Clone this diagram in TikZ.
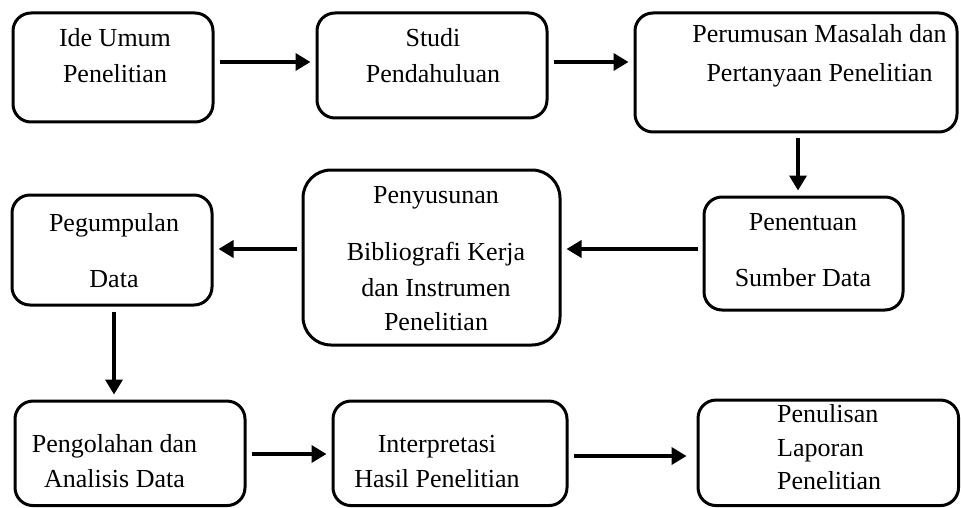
\documentclass[tikz,border=0pt]{standalone}
\usepackage{fontspec}
\setmainfont{Liberation Serif}
\usetikzlibrary{arrows.meta, positioning}
\tikzset{
    process/.style={rectangle, draw, line width=3pt, rounded corners=18pt, inner sep=0pt},
    boxtext/.style={align=center, anchor=north, inner sep=0pt, font=\fontsize{26}{36}\selectfont},
    arrow/.style={line width=3.5pt, -{Triangle[length=15pt, width=17pt]}, shorten <=5pt, shorten >=5pt}
}

\begin{document}
\begin{tikzpicture}[x=1pt, y=-1pt]
        \useasboundingbox (0,0) rectangle (961,508);
        % baris pertama
        \node[process, minimum width=200pt, minimum height=109pt] (ide) at (113,67.5) {};
        \node[process, minimum width=230pt, minimum height=105pt] (studi) at (432,65.5) {};
        \node[process, minimum width=322pt, minimum height=119pt] (rumusan) at (796,72.5) {};
        \node[boxtext] (ide-txt) at (115,28.5) {Ide Umum\\Penelitian};
        \node[boxtext] (studi-txt) at (433,28.5) {Studi\\Pendahuluan};
        \node[boxtext] (rumusan-txt) at (819.5,24.5) {Perumusan Masalah dan\\[3pt]Pertanyaan Penelitian};
        % baris kedua
        \node[process, minimum width=200pt, minimum height=110pt] (kumpul) at (112,250) {};
        \node[process, minimum width=257pt, minimum height=175pt, rounded corners=28pt] (susun) at (431.5,257.5) {};
        \node[process, minimum width=199pt, minimum height=113pt] (sumber) at (803.5,253.5) {};
        \node[boxtext] (kumpul-txt) at (114,213.5) {Pegumpulan\\[20pt]Data};
        \node[boxtext] (susun-txt) at (436,186.5) {Penyusunan\\[21pt]Bibliografi Kerja\\dan Instrumen\\[-2pt]Penelitian};
        \node[boxtext] (sumber-txt) at (803,213.5) {Penentuan\\[20pt]Sumber Data};
        % baris ketiga
        \node[process, minimum width=230pt, minimum height=104.5pt] (olah) at (130,453.3) {};
        \node[process, minimum width=234pt, minimum height=104.5pt] (tafsir) at (450,453.3) {};
        \node[process, minimum width=260.5pt, minimum height=105.5pt] (tulis) at (828.3,452.8) {};
        \node[boxtext] (olah-txt) at (114.5,434.5) {Pengolahan dan\\[-1pt]Analisis Data};
        \node[boxtext] (tafsir-txt) at (437,435.5) {Interpretasi\\[-1pt]Hasil Penelitian};
        \node[boxtext, anchor=north west, align=left] (tulis-txt) at (777,404.5) {Penulisan\\[-2.5pt]Laporan\\[-2.5pt]Penelitian};
        % panah
        \draw[arrow] (ide.east |- 0,62) -- (studi.west |- 0,62);
        \draw[arrow] (studi.east |- 0,62) -- (rumusan.west |- 0,62);
        \draw[arrow] (rumusan.south -| 798,0) -- (sumber.north -| 798,0);
        \draw[arrow] (sumber.west |- 0,249) -- (susun.east |- 0,249);
        \draw[arrow] (susun.west |- 0,249) -- (kumpul.east |- 0,249);
        \draw[arrow] (kumpul.south -| 114,0) -- (olah.north -| 114,0);
        \draw[arrow] (olah.east |- 0,454) -- (tafsir.west |- 0,454);
        \draw[arrow, shorten >=10pt] (tafsir.east |- 0,456) -- (tulis.west |- 0,456);
    \end{tikzpicture}
\end{document}
